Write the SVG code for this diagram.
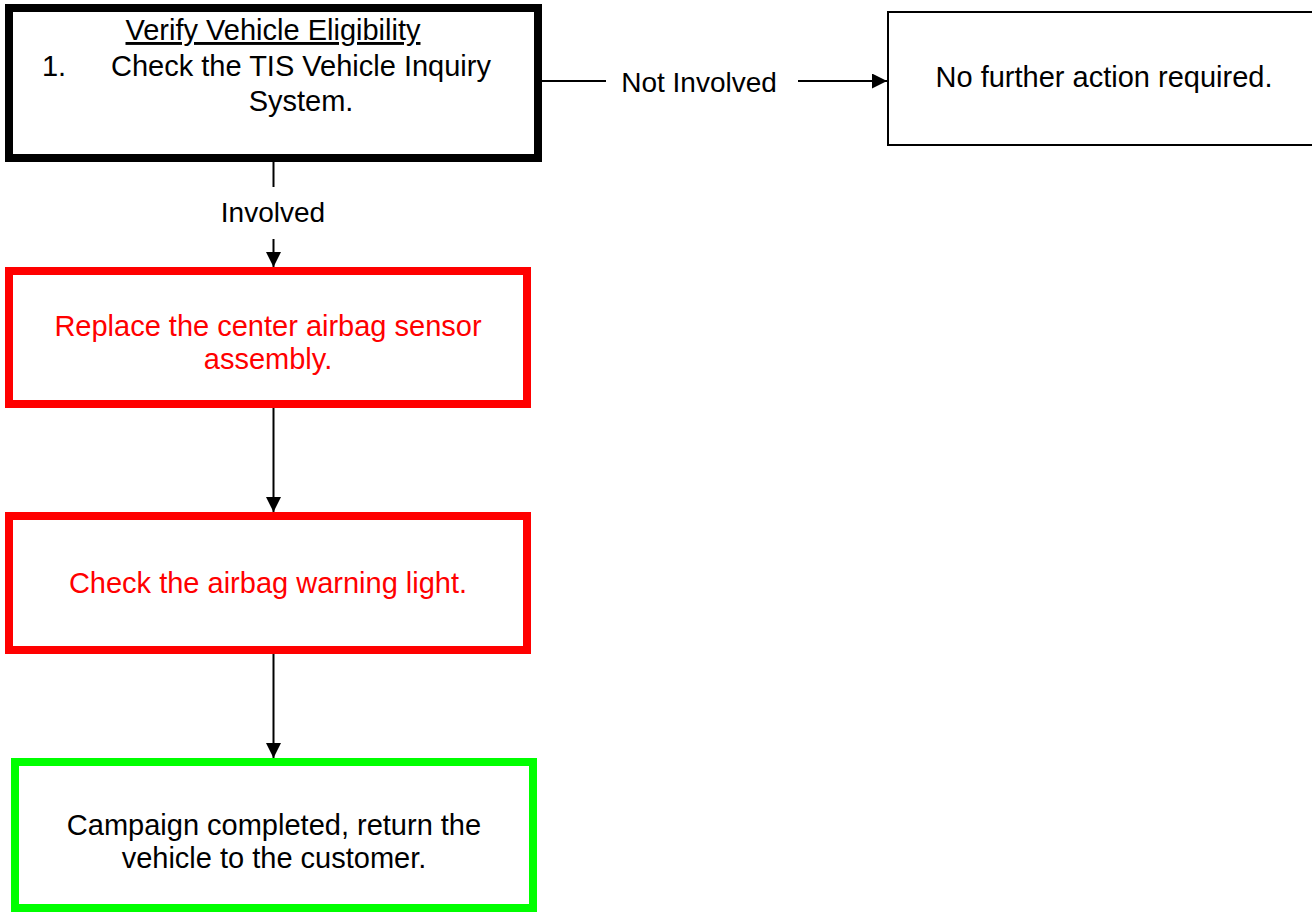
<svg xmlns="http://www.w3.org/2000/svg" width="1312" height="913" viewBox="0 0 1312 913">
<defs>
<style>
.t{font-family:"Liberation Sans",Arial,sans-serif;font-size:29px;fill:#000;text-anchor:middle}
.lbl{font-family:"Liberation Sans",Arial,sans-serif;font-size:28px;fill:#000;text-anchor:middle}
.red{fill:#FF0000}
.box{fill:#fff;stroke-width:8}
.c{stroke:#000;stroke-width:2;fill:none}
</style>
<marker id="arr" markerUnits="userSpaceOnUse" markerWidth="16" markerHeight="16" refX="15" refY="7.5" orient="auto">
<path d="M0,0 L15,7.5 L0,15 Z" fill="#000"/>
</marker>
</defs>
<rect width="1312" height="913" fill="#fff"/>
<g id="connectors">
<line class="c" x1="273.5" y1="162" x2="273.5" y2="187"/>
<text class="lbl" x="273" y="222">Involved</text>
<line class="c" x1="273.5" y1="239" x2="273.5" y2="267" marker-end="url(#arr)"/>
<line class="c" x1="273.5" y1="408" x2="273.5" y2="512" marker-end="url(#arr)"/>
<line class="c" x1="273.5" y1="654" x2="273.5" y2="758" marker-end="url(#arr)"/>
<line class="c" x1="542" y1="81" x2="606" y2="81"/>
<text class="lbl" x="699" y="92">Not Involved</text>
<line class="c" x1="798" y1="81" x2="887" y2="81" marker-end="url(#arr)"/>
</g>
<g id="verify">
<rect class="box" x="9" y="8" width="529" height="150" stroke="#000"/>
<text class="t" x="273" y="40" text-decoration="underline">Verify Vehicle Eligibility</text>
<text class="t" x="54" y="76" text-anchor="start">1.</text>
<text class="t" x="301" y="76">Check the TIS Vehicle Inquiry</text>
<text class="t" x="301" y="111">System.</text>
</g>
<g id="no-action">
<rect x="888" y="12" width="440" height="133" fill="#fff" stroke="#000" stroke-width="2"/>
<text class="t" x="1104" y="87">No further action required.</text>
</g>
<g id="replace">
<rect class="box" x="9" y="271" width="518" height="133" stroke="#FF0000"/>
<text class="t red" x="268" y="336">Replace the center airbag sensor</text>
<text class="t red" x="268" y="369">assembly.</text>
</g>
<g id="check-light">
<rect class="box" x="9" y="516" width="518" height="134" stroke="#FF0000"/>
<text class="t red" x="268" y="593">Check the airbag warning light.</text>
</g>
<g id="complete">
<rect class="box" x="15" y="762" width="518" height="146" stroke="#00FF00"/>
<text class="t" x="274" y="835">Campaign completed, return the</text>
<text class="t" x="274" y="868">vehicle to the customer.</text>
</g>
</svg>
